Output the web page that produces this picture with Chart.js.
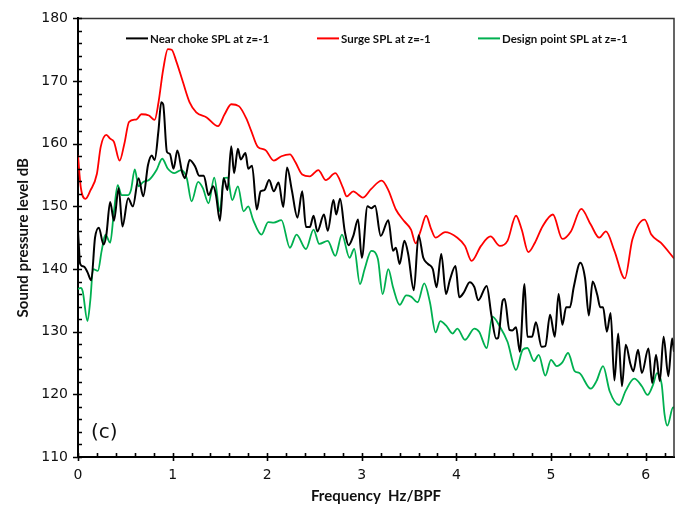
<!DOCTYPE html>
<html>
<head>
<meta charset="utf-8">
<script src="https://cdn.jsdelivr.net/npm/chart.js@4/dist/chart.umd.min.js"></script>
<style>
  html, body { margin: 0; padding: 0; background: #fff; }
  #wrap { width: 677px; height: 509px; }
</style>
</head>
<body>
<div id="wrap"><canvas id="c" width="677" height="509"></canvas></div>
<script>
// ---- Data ----
const seriesLabels = ["Near choke SPL at z=-1", "Surge SPL at z=-1", "Design point SPL at z=-1"];

const chokeFreq = [0.00,0.01,0.02,0.04,0.07,0.10,0.14,0.18,0.22,0.27,0.30,0.34,0.38,0.43,0.47,0.53,0.58,0.64,0.69,0.74,0.78,0.81,0.85,0.88,0.90,0.94,0.97,1.01,1.05,1.10,1.13,1.18,1.24,1.28,1.33,1.38,1.43,1.46,1.50,1.54,1.58,1.62,1.65,1.69,1.72,1.77,1.80,1.84,1.89,1.93,1.97,2.02,2.07,2.12,2.17,2.21,2.26,2.32,2.37,2.41,2.45,2.49,2.53,2.60,2.64,2.70,2.73,2.77,2.82,2.86,2.91,2.96,3.00,3.06,3.10,3.14,3.20,3.28,3.33,3.36,3.40,3.45,3.49,3.55,3.60,3.65,3.70,3.75,3.79,3.84,3.89,3.93,3.99,4.03,4.08,4.14,4.19,4.23,4.32,4.37,4.42,4.44,4.49,4.51,4.56,4.59,4.63,4.67,4.72,4.75,4.80,4.84,4.90,4.94,4.99,5.04,5.08,5.12,5.16,5.20,5.24,5.31,5.36,5.40,5.44,5.49,5.52,5.55,5.59,5.63,5.67,5.71,5.75,5.79,5.84,5.87,5.92,5.96,6.03,6.07,6.11,6.15,6.19,6.24,6.28,6.30];
const chokeSPL  = [146.0,143.5,141.0,140.5,140.3,139.5,138.2,145.0,146.6,143.9,145.5,150.7,147.7,152.9,146.8,151.3,150.0,154.5,151.6,156.6,158.1,157.4,162.0,166.6,166.3,158.7,158.4,156.0,158.9,155.5,154.5,157.4,156.3,154.9,154.9,151.8,153.2,151.7,147.7,154.5,152.6,159.6,155.3,159.2,157.5,158.5,156.0,156.5,149.5,152.4,152.6,154.2,152.4,153.8,149.9,156.2,152.6,148.2,152.4,146.7,146.7,148.5,146.0,148.7,146.1,151.0,148.7,151.2,146.0,143.8,145.3,147.9,141.8,150.0,149.7,150.1,145.3,147.8,142.9,143.4,140.8,144.5,142.4,136.6,145.4,141.8,140.8,140.0,137.1,142.4,136.0,138.2,140.5,135.5,136.3,137.9,137.1,135.0,137.3,132.6,128.9,129.0,135.0,135.2,130.3,130.2,130.7,126.8,137.6,129.2,129.2,131.5,127.6,127.7,132.7,129.2,136.0,131.1,133.9,133.9,137.1,141.0,138.5,132.6,138.0,135.8,133.9,133.9,130.0,133.0,122.2,129.7,121.3,127.9,124.8,123.7,127.1,123.4,127.3,121.8,126.3,122.1,129.2,122.9,128.9,126.8];

const surgeFreq = [0.00,0.03,0.08,0.13,0.20,0.24,0.30,0.34,0.38,0.44,0.49,0.54,0.62,0.67,0.75,0.81,0.85,0.90,0.95,0.99,1.04,1.11,1.18,1.25,1.36,1.48,1.55,1.62,1.70,1.78,1.83,1.90,1.98,2.07,2.15,2.24,2.30,2.37,2.45,2.54,2.62,2.72,2.80,2.84,2.91,2.96,3.01,3.10,3.21,3.28,3.36,3.45,3.52,3.57,3.62,3.68,3.73,3.78,3.88,4.01,4.09,4.16,4.26,4.36,4.46,4.54,4.63,4.69,4.76,4.83,4.91,5.02,5.12,5.21,5.32,5.42,5.51,5.58,5.67,5.78,5.86,5.99,6.06,6.16,6.30];
const surgeSPL  = [158.1,153.0,151.2,152.5,155.2,159.5,161.4,160.8,160.3,157.3,160.0,163.5,163.9,164.7,164.5,163.8,166.5,171.8,175.1,175.0,173.1,169.8,166.6,165.0,164.2,162.8,164.7,166.3,166.0,164.0,162.1,159.5,159.0,157.3,158.0,158.3,157.0,155.1,154.8,155.8,154.2,155.3,153.0,151.6,152.4,151.9,151.4,152.8,154.1,152.6,149.5,147.6,146.3,144.1,146.0,148.5,146.5,145.0,145.9,145.0,143.7,141.3,143.7,145.2,143.7,144.5,148.5,146.3,142.7,144.2,146.8,148.7,144.8,146.0,149.6,147.1,145.0,146.0,142.9,138.5,144.7,147.9,145.5,144.2,141.7];

const designFreq = [0.00,0.03,0.05,0.10,0.13,0.16,0.21,0.25,0.29,0.34,0.38,0.42,0.46,0.53,0.56,0.60,0.64,0.69,0.75,0.83,0.89,0.95,1.02,1.09,1.15,1.20,1.27,1.32,1.38,1.44,1.50,1.54,1.58,1.63,1.69,1.75,1.80,1.85,1.94,2.01,2.07,2.15,2.24,2.31,2.41,2.49,2.55,2.64,2.72,2.79,2.87,2.92,2.98,3.03,3.10,3.17,3.22,3.28,3.33,3.40,3.47,3.52,3.59,3.66,3.72,3.78,3.83,3.89,3.96,4.01,4.09,4.19,4.24,4.32,4.38,4.46,4.54,4.63,4.70,4.75,4.82,4.87,4.94,5.00,5.06,5.12,5.18,5.25,5.30,5.42,5.48,5.55,5.62,5.72,5.79,5.88,5.96,6.02,6.08,6.12,6.17,6.20,6.23,6.29,6.30];
const designSPL  = [136.8,137.0,136.4,131.7,135.0,140.0,139.7,142.9,145.5,144.2,149.2,153.4,151.8,151.8,152.6,155.9,153.2,153.9,154.2,155.8,157.6,156.0,155.3,155.8,154.5,150.8,153.9,152.9,150.5,154.6,149.2,154.5,154.6,151.0,153.2,149.2,150.0,147.9,145.5,147.5,147.4,147.8,143.4,145.5,143.2,146.3,144.0,144.5,142.1,145.5,141.8,143.2,137.6,140.0,142.9,141.6,136.0,140.0,137.1,134.3,135.8,135.6,134.7,137.7,134.7,129.9,131.7,131.0,129.7,130.5,128.7,130.5,130.0,127.4,132.4,130.8,128.4,123.9,127.1,127.4,125.3,126.3,123.0,125.5,124.5,125.1,126.6,123.7,123.4,120.9,122.1,124.5,120.5,118.3,120.6,122.5,121.3,119.9,121.6,123.4,121.6,116.8,115.0,117.9,117.9];

const xTicks = [0, 1, 2, 3, 4, 5, 6];
const yTicks = [110, 120, 130, 140, 150, 160, 170, 180];
const xRange = [0, 6.3];
const yRange = [110, 180];
const panelLabel = "(c)";

// ---- Build datasets ----
function pts(xs, ys) { return xs.map((x, i) => ({ x: x, y: ys[i] })); }
const colors = ["#000000", "#ff0000", "#00b050"];
const datasets = [
  { label: seriesLabels[0], data: pts(chokeFreq, chokeSPL), borderColor: colors[0], borderWidth: 2 },
  { label: seriesLabels[1], data: pts(surgeFreq, surgeSPL), borderColor: colors[1], borderWidth: 1.8 },
  { label: seriesLabels[2], data: pts(designFreq, designSPL), borderColor: colors[2], borderWidth: 1.8 }
].map(d => Object.assign(d, { pointRadius: 0, fill: false, cubicInterpolationMode: 'monotone', backgroundColor: d.borderColor }));

// ---- Plugin: frame, tick marks, legend, panel label ----
const decor = {
  id: 'decor',
  afterDraw(chart) {
    const ctx = chart.ctx, a = chart.chartArea;
    const xs = chart.scales.x, ys = chart.scales.y;
    ctx.save();
    // top & right frame
    ctx.strokeStyle = '#333';
    ctx.lineWidth = 1.5;
    ctx.beginPath();
    ctx.moveTo(a.left, a.top); ctx.lineTo(a.right, a.top); ctx.lineTo(a.right, a.bottom);
    ctx.stroke();
    // ticks
    ctx.strokeStyle = '#000';
    ctx.lineWidth = 1.6;
    ctx.beginPath();
    for (let v = 0; v <= xRange[1] + 1e-9; v += 0.2) {
      const px = Math.round(xs.getPixelForValue(v)) + 0.5;
      const isMajor = Math.abs(v - Math.round(v)) < 1e-6;
      ctx.moveTo(px, a.bottom + (isMajor ? 4 : 0));
      ctx.lineTo(px, a.bottom - 4);
    }
    for (let v = yRange[0]; v <= yRange[1] + 1e-9; v += 2) {
      const py = Math.round(ys.getPixelForValue(v)) + 0.5;
      const isMajor = v % 10 === 0;
      ctx.moveTo(a.left - (isMajor ? 5 : 0), py);
      ctx.lineTo(a.left + 4, py);
    }
    ctx.stroke();
    // legend
    const items = [
      { x: a.left + 48, i: 0 },
      { x: a.left + 239, i: 1 },
      { x: a.left + 400, i: 2 }
    ];
    const ly = a.top + 20;
    ctx.font = 'bold 11.5px Lato, "Open Sans", sans-serif';
    ctx.textBaseline = 'middle';
    ctx.textAlign = 'left';
    items.forEach(it => {
      ctx.strokeStyle = colors[it.i];
      ctx.lineWidth = 2;
      ctx.beginPath();
      ctx.moveTo(it.x, ly); ctx.lineTo(it.x + 22, ly);
      ctx.stroke();
      ctx.fillStyle = '#111';
      ctx.fillText(seriesLabels[it.i], it.x + 24, ly + 0.5);
    });
    // panel label
    ctx.font = '20px "DejaVu Sans", sans-serif';
    ctx.fillStyle = '#111';
    ctx.textBaseline = 'alphabetic';
    ctx.fillText(panelLabel, a.left + 13, a.bottom - 19);
    ctx.restore();
  }
};

new Chart(document.getElementById('c'), {
  type: 'line',
  data: { datasets: datasets },
  options: {
    responsive: false,
    animation: false,
    devicePixelRatio: 1,
    layout: { padding: { top: 13, right: 3, left: 0, bottom: 0 } },
    plugins: { legend: { display: false }, tooltip: { enabled: false } },
    scales: {
      x: {
        type: 'linear', min: xRange[0], max: xRange[1],
        afterBuildTicks: s => { s.ticks = xTicks.map(v => ({ value: v })); },
        afterFit: s => { s.height = 52; },
        grid: { display: false, drawTicks: false },
        border: { display: true, color: '#000', width: 2 },
        ticks: { padding: 10, color: '#111', font: { family: '"DejaVu Sans", sans-serif', size: 14 } },
        title: { display: true, text: 'Frequency  Hz/BPF', color: '#111',
                 font: { family: 'Lato, "Open Sans", sans-serif', size: 15, weight: 'bold' },
                 padding: { top: 0, bottom: 4 } }
      },
      y: {
        type: 'linear', min: yRange[0], max: yRange[1],
        afterBuildTicks: s => { s.ticks = yTicks.map(v => ({ value: v })); },
        afterFit: s => { s.width = 78; },
        grid: { display: false, drawTicks: false },
        border: { display: true, color: '#000', width: 2 },
        ticks: { padding: 10, color: '#111', font: { family: '"DejaVu Sans", sans-serif', size: 14 } },
        title: { display: true, text: 'Sound pressure level dB', color: '#111',
                 font: { family: 'Lato, "Open Sans", sans-serif', size: 15, weight: 'bold' },
                 padding: { top: 14, bottom: 0 } }
      }
    }
  },
  plugins: [decor]
});
</script>
</body>
</html>
